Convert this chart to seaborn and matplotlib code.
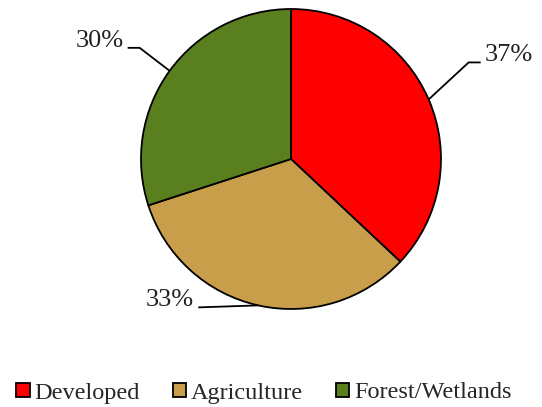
import numpy as np
import matplotlib
matplotlib.use("Agg")
import matplotlib.pyplot as plt
import seaborn as sns
from matplotlib.patches import Patch

categories = ["Developed", "Agriculture", "Forest/Wetlands"]
values = [37, 33, 30]
labels = ["37%", "33%", "30%"]
colors = ["#FF0000", "#C99E4A", "#5A7F1F"]

sns.set_theme(style="white")
plt.rcParams['font.family'] = ['Liberation Serif', 'DejaVu Serif']

W, H = 542, 407
fig = plt.figure(figsize=(W / 100, H / 100), dpi=100)
ax = fig.add_axes([0, 0, 1, 1])

cx, cy, r = 291, 248, 150
wedges, _ = ax.pie(values, colors=colors, startangle=90, counterclock=False,
                   center=(cx, cy), radius=r, frame=True,
                   wedgeprops=dict(edgecolor='black', linewidth=1.3))
ax.set_xlim(0, W)
ax.set_ylim(0, H)
ax.set_aspect('equal')
ax.axis('off')

# leader lines: (elbow dx, dy), horizontal length, text side
leaders = [((40, 37), 12, 'right'), ((-60, -2), 0, 'left'), ((-30, 23), -12, 'left')]
for w, lab, (d, hl, side) in zip(wedges, labels, leaders):
    ang = np.deg2rad((w.theta1 + w.theta2) / 2)
    x0, y0 = cx + r * np.cos(ang), cy + r * np.sin(ang)
    x1, y1 = x0 + d[0], y0 + d[1]
    x2 = x1 + hl
    ax.plot([x0, x1, x2], [y0, y1, y1], color='black', lw=1.3, solid_capstyle='butt')
    if side == 'right':
        ax.text(x2 + 4, y1 + 1, lab, ha='left', va='baseline', fontsize=19, color='#222222')
    else:
        ax.text(x2 - 4, y1 + 1, lab, ha='right', va='baseline', fontsize=19, color='#222222')

handles = [Patch(facecolor=c, edgecolor='black', linewidth=1.3) for c in colors]
fig.legend(handles, categories, loc='center', bbox_to_anchor=(0.5 - 7 / W, 1 - 393 / H),
           ncol=3, frameon=False, fontsize=17.5, handlelength=0.55, handleheight=0.55,
           handletextpad=0.2, columnspacing=1.35, borderaxespad=0)

fig.savefig("out.png", dpi=100)
